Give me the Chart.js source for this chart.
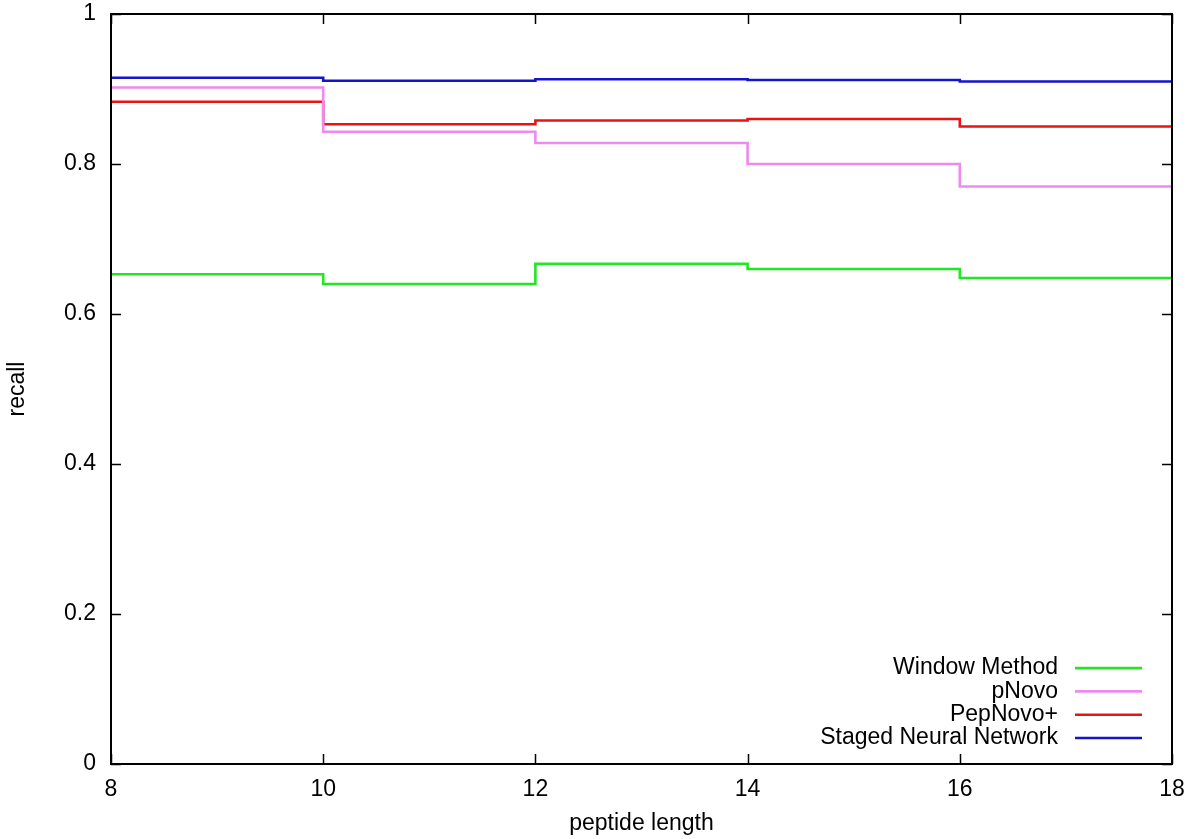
<!DOCTYPE html>
<html>
<head>
<meta charset="utf-8">
<script src="https://cdn.jsdelivr.net/npm/chart.js@4.4.1/dist/chart.umd.min.js"></script>
<style>
html,body{margin:0;padding:0;background:#fff;}
#wrap{width:1200px;height:839px;}
</style>
</head>
<body>
<div id="wrap"><canvas id="c" width="1200" height="839"></canvas></div>
<script>
// bin edges of peptide length
const binEdges = [8, 10, 12, 14, 16, 18];
const xTicks = [8, 10, 12, 14, 16, 18];
const yTicks = [0, 0.2, 0.4, 0.6, 0.8, 1];
const seriesNames = ['Window Method', 'pNovo', 'PepNovo+', 'Staged Neural Network'];
const windowMethod = [0.653, 0.640, 0.667, 0.660, 0.648];
const pNovo = [0.902, 0.843, 0.828, 0.800, 0.770];
const pepNovo = [0.883, 0.853, 0.858, 0.860, 0.850];
const stagedNN = [0.915, 0.911, 0.913, 0.912, 0.910];
const colors = ['#22e622', '#ee8aee', '#e81414', '#1414cc'];

const FONT = 'Liberation Sans, Arial, sans-serif';
const FS = 23;

function toSteps(vals) {
  const pts = vals.map((v, i) => ({x: binEdges[i], y: v}));
  pts.push({x: binEdges[binEdges.length - 1], y: vals[vals.length - 1]});
  return pts;
}

const allSeries = [windowMethod, pNovo, pepNovo, stagedNN];
const datasets = allSeries.map((vals, i) => ({
  label: seriesNames[i],
  data: toSteps(vals),
  borderColor: colors[i],
  backgroundColor: colors[i],
  borderWidth: 2.6,
  pointRadius: 0,
  stepped: true,
  fill: false
}));

const framePlugin = {
  id: 'frame',
  afterDatasetsDraw(chart) {
    const {ctx, chartArea: a, scales} = chart;
    ctx.save();
    ctx.strokeStyle = '#000';
    ctx.lineWidth = 1.5;
    const tl = 10;
    ctx.beginPath();
    yTicks.forEach(v => {
      const y = Math.round(scales.y.getPixelForValue(v)) + 0.5;
      ctx.moveTo(a.left, y); ctx.lineTo(a.left + tl, y);
      ctx.moveTo(a.right, y); ctx.lineTo(a.right - tl, y);
    });
    xTicks.forEach(v => {
      const x = Math.round(scales.x.getPixelForValue(v)) + 0.5;
      ctx.moveTo(x, a.bottom); ctx.lineTo(x, a.bottom - tl);
      ctx.moveTo(x, a.top); ctx.lineTo(x, a.top + tl);
    });
    ctx.stroke();
    ctx.lineWidth = 2;
    ctx.strokeRect(a.left, a.top, a.right - a.left, a.bottom - a.top);
    // legend
    ctx.font = FS + 'px ' + FONT;
    ctx.textAlign = 'right';
    ctx.textBaseline = 'middle';
    const spacing = 23.3;
    const n = chart.data.datasets.length;
    chart.data.datasets.forEach((ds, i) => {
      const y = a.bottom - 26 - (n - 1 - i) * spacing;
      ctx.fillStyle = '#000';
      ctx.fillText(ds.label, a.right - 114, y);
      ctx.strokeStyle = ds.borderColor;
      ctx.lineWidth = 2.6;
      ctx.beginPath();
      ctx.moveTo(a.right - 97, y);
      ctx.lineTo(a.right - 30, y);
      ctx.stroke();
    });
    ctx.restore();
  }
};

new Chart(document.getElementById('c'), {
  type: 'line',
  data: {datasets},
  options: {
    responsive: false,
    animation: false,
    layout: {padding: {top: 14, right: 28, left: 0, bottom: 0}},
    plugins: {legend: {display: false}, tooltip: {enabled: false}},
    scales: {
      x: {
        type: 'linear',
        min: 8, max: 18,
        afterBuildTicks(s) { s.ticks = xTicks.map(v => ({value: v})); },
        afterFit(s) { s.height = 75; s.paddingLeft = 0; s.paddingRight = 0; },
        grid: {display: false, drawTicks: false},
        border: {display: false},
        ticks: {color: '#000', font: {family: FONT, size: FS}, padding: 12, maxRotation: 0,
                callback: v => String(v)},
        title: {display: true, text: 'peptide length', color: '#000',
                font: {family: FONT, size: FS}, padding: {top: 0, bottom: 2}}
      },
      y: {
        type: 'linear',
        min: 0, max: 1,
        afterBuildTicks(s) { s.ticks = yTicks.map(v => ({value: v})); },
        afterFit(s) { s.width = 111; s.paddingTop = 0; s.paddingBottom = 0; },
        grid: {display: false, drawTicks: false},
        border: {display: false},
        ticks: {color: '#000', font: {family: FONT, size: FS}, padding: 15,
                callback: v => String(v)},
        title: {display: true, text: 'recall', color: '#000',
                font: {family: FONT, size: FS}, padding: {top: 4, bottom: 0}}
      }
    }
  },
  plugins: [framePlugin]
});
</script>
</body>
</html>
